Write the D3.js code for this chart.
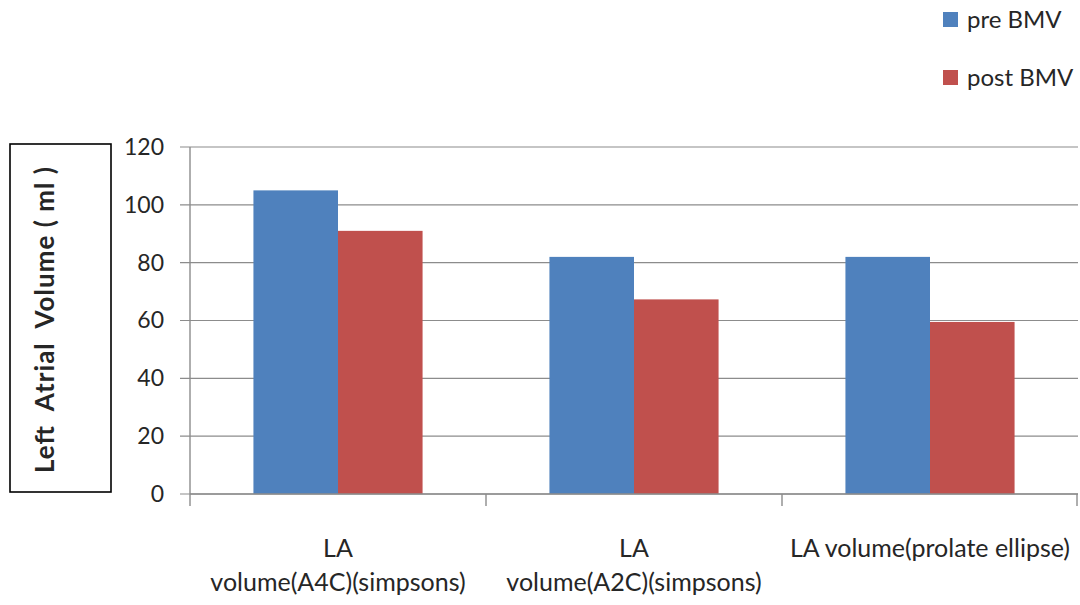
<!DOCTYPE html>
<html>
<head>
<meta charset="utf-8">
<script src="https://cdn.jsdelivr.net/npm/d3@7"></script>
<style>
  html, body { margin: 0; padding: 0; background: #fff; }
  svg { display: block; }
  text { font-family: Lato, "Open Sans", sans-serif; fill: #262626; }
</style>
</head>
<body>
<svg id="chart" width="1080" height="605"></svg>
<script>
const categories = [
  ["LA", "volume(A4C)(simpsons)"],
  ["LA", "volume(A2C)(simpsons)"],
  ["LA volume(prolate ellipse)"]
];
const seriesNames = ["pre BMV", "post BMV"];
const preBMV = [105, 82, 82];
const postBMV = [91, 67.3, 59.5];
const yTicks = [0, 20, 40, 60, 80, 100, 120];
const yLabel = "Left  Atrial  Volume ( ml )";
const colors = ["#4F81BD", "#C0504D"];

const svg = d3.select("#chart");
const margin = { left: 190, right: 2, top: 147, bottom: 111 };
const W = 1080, H = 605;
const x0 = margin.left, x1 = W - margin.right;
const yTop = margin.top, yBot = H - margin.bottom;

const catIdx = categories.map((d, i) => i);
const x = d3.scaleBand().domain(catIdx).range([x0, x1]).paddingInner(0).paddingOuter(0);
const bw = x.bandwidth() / 3.5;
const xs = d3.scaleBand().domain([0, 1]).range([0.75 * bw, 2.75 * bw]);
const y = d3.scaleLinear().domain([0, 120]).range([yBot, yTop]);

// gridlines
svg.append("g")
  .selectAll("line").data(yTicks).join("line")
  .attr("x1", x0 - 10).attr("x2", x1)
  .attr("y1", d => y(d)).attr("y2", d => y(d))
  .attr("stroke", "#8c8c8c").attr("stroke-width", 1.2);

// y-axis labels
const yAxis = d3.axisLeft(y).tickValues(yTicks).tickSize(0).tickPadding(0);
const ya = svg.append("g").attr("transform", `translate(${x0 - 26},0)`).call(yAxis);
ya.select(".domain").remove();
ya.selectAll("text").style("font-size", "23px").style("font-family", "Lato, sans-serif").attr("fill", "#262626");

// bars
const series = [preBMV, postBMV];
series.forEach((vals, s) => {
  svg.append("g").selectAll("rect").data(vals).join("rect")
    .attr("x", (d, i) => x(i) + xs(s))
    .attr("width", xs.bandwidth())
    .attr("y", d => y(d))
    .attr("height", d => y(0) - y(d))
    .attr("fill", colors[s]);
});

// vertical axis line
svg.append("line").attr("x1", x0).attr("x2", x0).attr("y1", yTop).attr("y2", yBot + 12)
  .attr("stroke", "#8c8c8c").attr("stroke-width", 1.4);
// x axis baseline + category ticks
svg.append("line").attr("x1", x0).attr("x2", x1).attr("y1", yBot).attr("y2", yBot)
  .attr("stroke", "#8c8c8c").attr("stroke-width", 1.4);
const bounds = catIdx.slice(1).map(i => x(i)).concat([x1 - 1]);
svg.append("g").selectAll("line").data(bounds).join("line")
  .attr("x1", d => d).attr("x2", d => d).attr("y1", yBot).attr("y2", yBot + 12)
  .attr("stroke", "#8c8c8c").attr("stroke-width", 1.4);

// x labels
const xl = svg.append("g");
categories.forEach((lines, i) => {
  const t = xl.append("text")
    .attr("x", x(i) + x.bandwidth() / 2)
    .attr("y", 557)
    .attr("text-anchor", "middle")
    .style("font-size", "25px");
  lines.forEach((ln, k) => {
    t.append("tspan").attr("x", x(i) + x.bandwidth() / 2).attr("dy", k === 0 ? 0 : 34).text(ln);
  });
});

// y label box
svg.append("rect").attr("x", 10).attr("y", 144).attr("width", 101).attr("height", 348)
  .attr("fill", "none").attr("stroke", "#000").attr("stroke-width", 1.6);
svg.append("text")
  .attr("transform", `translate(54,${144 + 348 / 2 + 2}) rotate(-90)`)
  .attr("text-anchor", "middle")
  .attr("textLength", 306)
  .attr("lengthAdjust", "spacing")
  .attr("xml:space", "preserve")
  .style("font-size", "26px").style("font-weight", "bold")
  .style("white-space", "pre")
  .attr("fill", "#000")
  .text(yLabel);

// legend
const lg = svg.append("g");
seriesNames.forEach((name, i) => {
  const yy = 12 + i * 58;
  lg.append("rect").attr("x", 943).attr("y", yy).attr("width", 15).attr("height", 15).attr("fill", colors[i]);
  lg.append("text").attr("x", 967).attr("y", yy + 16).style("font-size", "24px").text(name);
});
</script>
</body>
</html>
